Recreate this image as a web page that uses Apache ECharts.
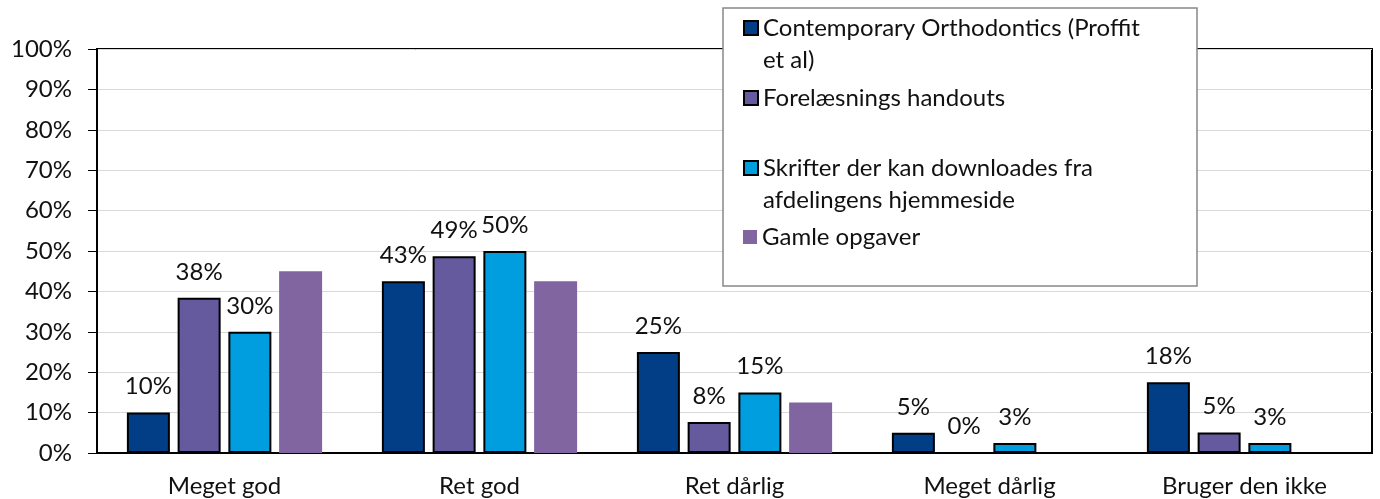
<!DOCTYPE html>
<html>
<head>
<meta charset="utf-8">
<script src="https://cdn.jsdelivr.net/npm/echarts@6/dist/echarts.min.js"></script>
<style>
  html, body { margin: 0; padding: 0; background: #fff; }
  #chart { width: 1380px; height: 499px; }
</style>
</head>
<body>
<div id="chart"></div>
<script>
// categories and series values (percent)
var categories = ['Meget god', 'Ret god', 'Ret dårlig', 'Meget dårlig', 'Bruger den ikke'];
var seriesNames = ['Contemporary Orthodontics (Proffit et al)', 'Forelæsnings handouts',
  'Skrifter der kan downloades fra afdelingens hjemmeside', 'Gamle opgaver'];
// leading blank line keeps the marker level with the first text line
var legendLabels = [' \nContemporary Orthodontics (Proffit\net al)', 'Forelæsnings handouts',
  ' \nSkrifter der kan downloades fra\nafdelingens hjemmeside', 'Gamle opgaver'];
var proffit  = [10, 42.5, 25, 5, 17.5];
var handouts = [38.4, 48.7, 7.7, 0, 5.1];
var skrifter = [30, 50, 15, 2.5, 2.5];
var opgaver  = [45, 42.5, 12.5, 0, 0];
var yTicks = [0, 10, 20, 30, 40, 50, 60, 70, 80, 90, 100];

var colors = ['#023E85', '#665A9F', '#009EDF', '#8165A1'];
var font = 'Lato, "Noto Sans", sans-serif';

var chart = echarts.init(document.getElementById('chart'));

function barSeries(i, values, labelled) {
  return {
    name: seriesNames[i],
    type: 'bar',
    data: values,
    barWidth: 43,
    barGap: '18%',
    itemStyle: labelled ? { color: colors[i], borderColor: '#000', borderWidth: 2 } : { color: colors[i] },
    label: {
      show: labelled,
      position: 'top',
      distance: 14,
      fontFamily: font,
      fontSize: 24,
      color: '#111',
      formatter: function (p) { return Math.round(p.value) + '%'; }
    }
  };
}

// one legend block per entry so the spacing follows the original
function legendBlock(i, top) {
  return {
    data: [seriesNames[i]],
    left: 743,
    top: top,
    padding: 0,
    icon: 'rect',
    itemWidth: 14,
    itemHeight: 14,
    selectedMode: false,
    formatter: function () { return legendLabels[i]; },
    textStyle: {
      fontFamily: font,
      fontSize: 24,
      lineHeight: 32,
      color: '#111'
    }
  };
}

var option = {
  animation: false,
  textStyle: { fontFamily: font },
  grid: {
    left: 97, right: 8, top: 49, bottom: 46,
    show: true, borderColor: '#000', borderWidth: 2
  },
  xAxis: {
    type: 'category',
    data: categories,
    axisLine: { lineStyle: { color: '#000', width: 2 } },
    axisTick: { show: false },
    axisLabel: { fontSize: 24, color: '#111', margin: 21, fontFamily: font }
  },
  yAxis: {
    type: 'value',
    min: yTicks[0],
    max: yTicks[yTicks.length - 1],
    interval: 10,
    axisLine: { show: true, lineStyle: { color: '#000', width: 2 } },
    axisTick: { show: true, length: 9, lineStyle: { color: '#000', width: 1 } },
    axisLabel: { fontSize: 24, color: '#111', margin: 25, fontFamily: font, formatter: '{value}%' },
    splitLine: { lineStyle: { color: '#d9d9d9', width: 1 } }
  },
  graphic: [{
    type: 'rect',
    z: 3,
    shape: { x: 723, y: 8, width: 474, height: 278 },
    style: { fill: '#fff', stroke: '#888', lineWidth: 1.5 }
  }],
  legend: [
    legendBlock(0, -20),
    legendBlock(1, 82),
    legendBlock(2, 120),
    legendBlock(3, 221)
  ],
  series: [
    barSeries(0, proffit, true),
    barSeries(1, handouts, true),
    barSeries(2, skrifter, true),
    barSeries(3, opgaver, false)
  ]
};

chart.setOption(option);
</script>
</body>
</html>
